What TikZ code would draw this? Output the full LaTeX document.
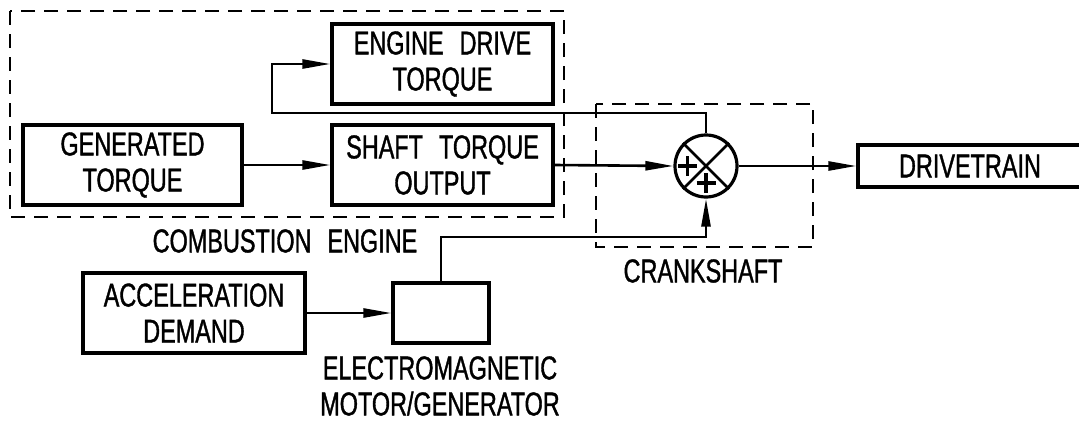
\documentclass[tikz,border=0pt]{standalone}
\usepackage{fontspec}
\setmainfont{Liberation Sans}[FakeStretch=0.71,FakeBold=1.1]
\usetikzlibrary{arrows.meta}
\newcommand{\wsp}{\hskip 16pt\relax}
\begin{document}
\begin{tikzpicture}[x=1pt,y=-1pt,
  lbl/.style={font=\fontsize{33}{36}\selectfont,align=center,inner sep=0pt},
  blk/.style={lbl,draw,line width=3.2pt,rectangle},
  arr/.style={-{Triangle[length=28pt,width=9pt]},line width=2.6pt},
  wire/.style={line width=2.8pt},
  pls/.style={line width=3.2pt},
  grp/.style={draw,line width=2.8pt,dash pattern=on 14pt off 9pt}]
\useasboundingbox (0,0) rectangle (1079,423);
% group frames
\draw[grp] (10,11) rectangle (564,217);
\draw[grp] (596,104) rectangle (813,247);
% blocks
\node[blk,minimum width=219pt,minimum height=80pt] (gen) at (132.5,165) {GENERATED\\TORQUE};
\node[blk,minimum width=221pt,minimum height=80pt] (edt) at (442.5,64) {ENGINE\wsp DRIVE\\TORQUE};
\node[blk,minimum width=221pt,minimum height=80pt] (sto) at (442.5,165) {SHAFT\wsp TORQUE\\OUTPUT};
\node[blk,minimum width=222pt,minimum height=80pt] (acc) at (194,313) {ACCELERATION\\DEMAND};
\node[blk,minimum width=96pt,minimum height=60pt] (mot) at (441,313) {};
\node[blk,minimum width=224pt,minimum height=42pt] (drv) at (970,166) {DRIVETRAIN};
\node[draw,circle,line width=3.2pt,minimum size=62pt,inner sep=0pt] (sum) at (706,166) {};
% X and plus signs in summing junction
\draw[wire] (sum.45) -- (sum.225) (sum.135) -- (sum.315);
\draw[pls] (678,166) -- (697,166) (687.5,156) -- (687.5,176);
\draw[pls] (696.5,183) -- (715.5,183) (706,173) -- (706,193);
% labels
\node[lbl] (lce) at (285,241) {COMBUSTION\wsp ENGINE};
\node[lbl] (lcs) at (703,271) {CRANKSHAFT};
\node[lbl] (lmg) at (440,386) {ELECTROMAGNETIC\\MOTOR/GENERATOR};
% connectors
\coordinate (fb) at (272,113);
\coordinate (mg) at (440,237);
\draw[arr] (gen.east) -- (sto.west);
\draw[arr] (sum.north) |- (fb) |- (edt.west);
\draw[arr] (sto.east) -- (sum.west);
\draw[arr] (acc.east) -- (mot.west);
\draw[arr] (mot.north) |- (mg) -| (sum.south);
\draw[arr] (sum.east) -- (drv.west);
\end{tikzpicture}
\end{document}
